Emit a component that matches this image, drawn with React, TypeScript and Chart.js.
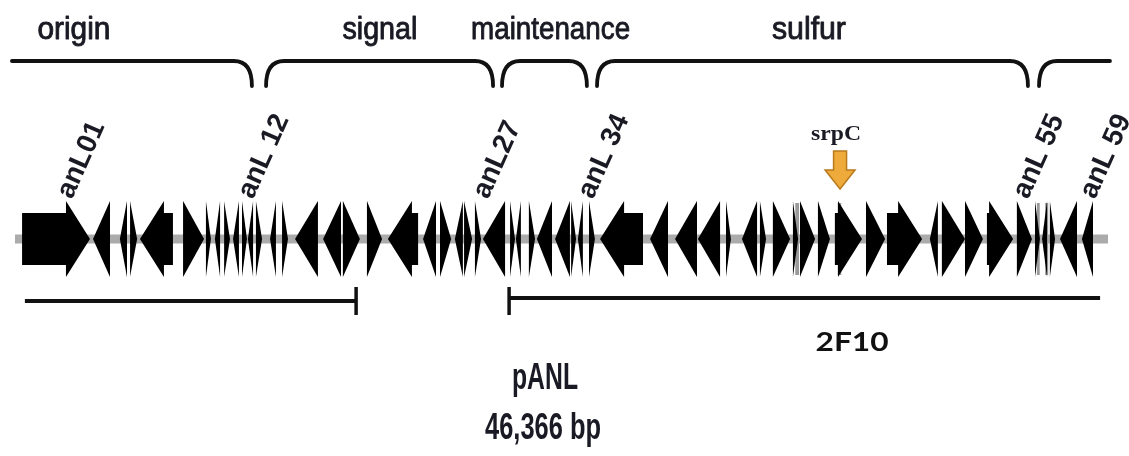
import React, { useEffect, useRef } from 'react';
import { Chart, registerables } from 'chart.js';

Chart.register(...registerables);

// ---------------- DATA ----------------
const PLASMID_NAME = 'pANL';
const PLASMID_SIZE_LABEL = '46,366 bp';
const PLASMID_LENGTH = 46366;

// genes (bp), strand 1 = forward, -1 = reverse
const geneStarts = [
  300, 3310, 4450, 4880, 5300, 7130, 8100, 8480, 8870, 9250,
  9630, 9880, 10220, 10820, 11330, 11880, 13070, 13910, 14930, 15820,
  17310, 18030, 18660, 19050, 19510, 19850, 21000, 21250, 21800, 22140,
  22910, 23590, 23880, 24350, 24820, 26940, 28000, 28970, 30160, 30840,
  31600, 32150, 33000, 33300, 34060, 34780, 36100, 36990, 38810, 39320,
  40300, 41230, 42500, 43270, 43570, 43900, 44330, 45260,
];
const geneEnds = [
  3180, 4030, 4750, 5180, 6700, 8020, 8310, 8700, 9120, 9500,
  9840, 10100, 10480, 11070, 11580, 12850, 13830, 14630, 15570, 17100,
  17860, 18500, 19000, 19390, 19770, 20790, 21210, 21460, 22060, 22780,
  23540, 23800, 24090, 24600, 26640, 27700, 28930, 29910, 30370, 31480,
  31860, 32880, 33220, 33940, 34570, 35930, 36910, 38480, 39150, 40300,
  41060, 42340, 43140, 43480, 43780, 44120, 45050, 45730,
];
const geneStrands = [
  1, -1, -1, 1, -1, 1, 1, -1, 1, -1,
  1, -1, 1, -1, 1, -1, -1, 1, 1, -1,
  -1, 1, -1, 1, 1, -1, 1, -1, 1, -1,
  -1, 1, -1, 1, -1, -1, -1, -1, 1, -1,
  1, 1, 1, 1, 1, 1, 1, 1, -1, 1,
  1, 1, 1, 1, -1, 1, -1, -1,
];

// faint (grey) small ORFs
const faintStarts = [33100, 34900, 43350, 43700];
const faintEnds = [33260, 35050, 43470, 43830];

// functional regions (braces on top)
const regionNames = ['origin', 'signal', 'maintenance', 'sulfur', ''];
const regionStarts = [-130, 10650, 20660, 24690, 43440];
const regionEnds = [10050, 20280, 24260, 42970, 46450];
const regionLabelPos = [2500, 15480, 22720, 33680, 0];

// labelled genes
const geneLabelTexts = ['anL01', 'anL 12', 'anL27', 'anL 34', 'anL 55', 'anL 59'];
const geneLabelPos = [1990, 9670, 19640, 24090, 42550, 45390];

// cloned fragments
const fragmentNames = ['', '2F10'];
const fragmentStarts = [420, 20960];
const fragmentEnds = [14470, 46030];
const fragmentTickAtEnd = [true, false];
const fragmentLabelPos = [0, 35510];

// highlighted gene
const markerName = 'srpC';
const markerPos = 35000;

// ---------------- STYLE ----------------
const BACKBONE_Y = 239;
const HEAD_H = 38;
const SHAFT_H = 26;
const HEAD_LEN = 24;
const BRACE_Y = 61;
const CURL_BOTTOM = 86;
const TEXT_COLOR = '#1a1a24';

function drawGene(ctx: CanvasRenderingContext2D, a: number, b: number, strand: number, cy: number) {
  const w = b - a;
  const hl = Math.min(w, HEAD_LEN);
  ctx.beginPath();
  if (strand > 0) {
    const hb = b - hl;
    if (hb > a + 0.5) {
      ctx.moveTo(a, cy - SHAFT_H);
      ctx.lineTo(hb, cy - SHAFT_H);
      ctx.lineTo(hb, cy - HEAD_H);
      ctx.lineTo(b, cy);
      ctx.lineTo(hb, cy + HEAD_H);
      ctx.lineTo(hb, cy + SHAFT_H);
      ctx.lineTo(a, cy + SHAFT_H);
    } else {
      ctx.moveTo(a, cy - HEAD_H);
      ctx.lineTo(b, cy);
      ctx.lineTo(a, cy + HEAD_H);
    }
  } else {
    const hb = a + hl;
    if (hb < b - 0.5) {
      ctx.moveTo(b, cy - SHAFT_H);
      ctx.lineTo(hb, cy - SHAFT_H);
      ctx.lineTo(hb, cy - HEAD_H);
      ctx.lineTo(a, cy);
      ctx.lineTo(hb, cy + HEAD_H);
      ctx.lineTo(hb, cy + SHAFT_H);
      ctx.lineTo(b, cy + SHAFT_H);
    } else {
      ctx.moveTo(b, cy - HEAD_H);
      ctx.lineTo(a, cy);
      ctx.lineTo(b, cy + HEAD_H);
    }
  }
  ctx.closePath();
  ctx.fill();
}

function fitText(
  ctx: CanvasRenderingContext2D,
  text: string,
  cx: number,
  y: number,
  font: string,
  width: number,
  color: string,
  thicken = 0,
) {
  ctx.save();
  ctx.font = font;
  const w = ctx.measureText(text).width;
  const sx = width > 0 ? width / w : 1;
  ctx.translate(cx, y);
  ctx.scale(sx, 1);
  ctx.fillStyle = color;
  ctx.textAlign = 'center';
  ctx.textBaseline = 'alphabetic';
  ctx.fillText(text, 0, 0);
  if (thicken > 0) {
    ctx.strokeStyle = color;
    ctx.lineWidth = thicken;
    ctx.lineJoin = 'round';
    ctx.strokeText(text, 0, 0);
  }
  ctx.restore();
}

const mapPlugin = {
  id: 'plasmidMap',
  afterDatasetsDraw(chart: any) {
    const ctx: CanvasRenderingContext2D = chart.ctx;
    const xs = chart.scales.x;
    const px = (v: number) => xs.getPixelForValue(v);
    ctx.save();

    // backbone
    ctx.fillStyle = '#ababab';
    ctx.fillRect(px(0), BACKBONE_Y - 4.5, px(PLASMID_LENGTH) - px(0), 9);

    // faint ORFs
    ctx.fillStyle = '#9a9a9a';
    for (let i = 0; i < faintStarts.length; i++) {
      const a = px(faintStarts[i]);
      const b = px(faintEnds[i]);
      ctx.fillRect(a, BACKBONE_Y - HEAD_H + 2, b - a, 2 * HEAD_H - 4);
    }

    // genes
    ctx.fillStyle = '#000000';
    for (let i = 0; i < geneStarts.length; i++) {
      drawGene(ctx, px(geneStarts[i]), px(geneEnds[i]), geneStrands[i], BACKBONE_Y);
    }

    // braces
    ctx.strokeStyle = '#111111';
    ctx.lineWidth = 3.8;
    ctx.lineCap = 'round';
    const r = 18;
    const last = regionStarts.length - 1;
    for (let i = 0; i <= last; i++) {
      const s = px(regionStarts[i]);
      const e = px(regionEnds[i]);
      ctx.beginPath();
      if (i > 0) {
        ctx.moveTo(s, CURL_BOTTOM);
        ctx.quadraticCurveTo(s, BRACE_Y, s + r, BRACE_Y);
      } else {
        ctx.moveTo(s, BRACE_Y);
      }
      if (i < last) {
        ctx.lineTo(e - r, BRACE_Y);
        ctx.quadraticCurveTo(e, BRACE_Y, e, CURL_BOTTOM);
      } else {
        ctx.lineTo(e, BRACE_Y);
      }
      ctx.stroke();
    }

    // region labels
    const regionWidths = [73, 75, 159, 74, 0];
    for (let i = 0; i <= last; i++) {
      if (!regionNames[i]) continue;
      fitText(ctx, regionNames[i], px(regionLabelPos[i]), 39, '31px "Liberation Sans", Arial, sans-serif', regionWidths[i], TEXT_COLOR, 0.9);
    }

    // gene labels (rotated)
    ctx.fillStyle = TEXT_COLOR;
    ctx.font = 'bold 28px "Liberation Sans", Arial, sans-serif';
    ctx.textAlign = 'left';
    ctx.textBaseline = 'alphabetic';
    for (let i = 0; i < geneLabelTexts.length; i++) {
      ctx.save();
      ctx.translate(px(geneLabelPos[i]) + 10, 200);
      ctx.rotate((-66 * Math.PI) / 180);
      ctx.fillText(geneLabelTexts[i], 0, 0);
      ctx.restore();
    }

    // srpC marker
    const mx = px(markerPos);
    fitText(ctx, markerName, mx - 4, 140, 'bold 20px "Liberation Serif", "Times New Roman", serif', 50, TEXT_COLOR);
    ctx.beginPath();
    ctx.moveTo(mx - 6.5, 151);
    ctx.lineTo(mx + 6.5, 151);
    ctx.lineTo(mx + 6.5, 170);
    ctx.lineTo(mx + 15, 170);
    ctx.lineTo(mx, 189);
    ctx.lineTo(mx - 15, 170);
    ctx.lineTo(mx - 6.5, 170);
    ctx.closePath();
    ctx.fillStyle = '#eeaa3a';
    ctx.fill();
    ctx.strokeStyle = '#b97a1c';
    ctx.lineWidth = 1.5;
    ctx.stroke();

    // fragments
    ctx.strokeStyle = '#111111';
    ctx.lineCap = 'butt';
    const fragY = [301, 298];
    for (let i = 0; i < fragmentStarts.length; i++) {
      const s = px(fragmentStarts[i]);
      const e = px(fragmentEnds[i]);
      ctx.lineWidth = 4;
      ctx.beginPath();
      ctx.moveTo(s, fragY[i]);
      ctx.lineTo(e, fragY[i]);
      ctx.stroke();
      const tx = fragmentTickAtEnd[i] ? e : s;
      ctx.lineWidth = 3.5;
      ctx.beginPath();
      ctx.moveTo(tx, 287);
      ctx.lineTo(tx, 315);
      ctx.stroke();
      if (fragmentNames[i]) {
        fitText(ctx, fragmentNames[i], px(fragmentLabelPos[i]), 351, 'bold 27px Lato, "Open Sans", sans-serif', 73, '#111111');
      }
    }

    // title
    fitText(ctx, PLASMID_NAME, 545, 389, 'bold 36px "Liberation Sans", Arial, sans-serif', 66, TEXT_COLOR);
    fitText(ctx, PLASMID_SIZE_LABEL, 543, 439, 'bold 36px "Liberation Sans", Arial, sans-serif', 116, TEXT_COLOR);

    ctx.restore();
  },
};

export default function App() {
  const canvasRef = useRef<HTMLCanvasElement | null>(null);

  useEffect(() => {
    document.body.style.margin = '0';
    document.body.style.overflow = 'hidden';
    const canvas = canvasRef.current;
    if (!canvas) return;
    const chart = new Chart(canvas, {
      type: 'scatter',
      data: {
        datasets: [
          {
            data: geneStarts.map((s, i) => ({ x: (s + geneEnds[i]) / 2, y: 0.5 })),
            pointRadius: 0,
            showLine: false,
          },
        ],
      },
      options: {
        responsive: false,
        animation: false,
        events: [],
        layout: { padding: { left: 15, right: 21, top: 0, bottom: 0 } },
        scales: {
          x: { type: 'linear', min: 0, max: PLASMID_LENGTH, display: false },
          y: { type: 'linear', min: 0, max: 1, display: false },
        },
        plugins: {
          legend: { display: false },
          tooltip: { enabled: false },
          title: { display: false },
        },
      },
      plugins: [mapPlugin],
    });
    return () => chart.destroy();
  }, []);

  return (
    <div style={{ width: 1129, height: 456, background: '#ffffff' }}>
      <canvas ref={canvasRef} width={1129} height={456} style={{ display: 'block' }} />
    </div>
  );
}
